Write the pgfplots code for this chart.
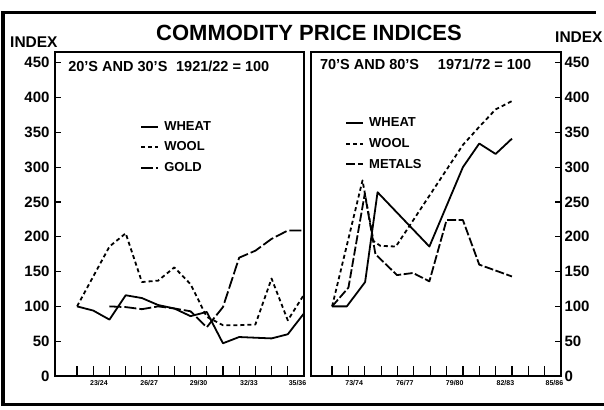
\documentclass[border=0pt]{standalone}
\usepackage{fontspec}
\setmainfont{Liberation Sans}
\usepackage{pgfplots}
\pgfplotsset{compat=1.18}

\pgfplotsset{
  panel/.style={
    scale only axis, height=324pt, ymin=0, ymax=465.5,
    axis line style={line width=2pt, line cap=rect},
    tick align=inside,
    ytick={0,50,...,450},
    xtick={0,...,13},
    xticklabels={},
    tick style={line width=1.2pt, black},
    major tick length=6pt,
    xtick style={/pgfplots/major tick length=10pt},
    xtick pos=left,
    extra x ticks={1.35,4.45,7.5,10.6,13.6},
    extra x tick style={tick style={draw=none}},
    extra x tick style={xticklabel style={font=\bfseries\fontsize{7}{7}\selectfont, yshift=-1pt}},
    yticklabel style={font=\bfseries\fontsize{15}{15}\selectfont},
    /pgf/number format/assume math mode=true,
    legend cell align=left,
    legend image code/.code={\draw[#1] (0pt,0pt) -- (17pt,0pt);},
    legend style={draw=none, fill=none, inner sep=0pt, row sep=10pt,
      font=\bfseries\fontsize{13}{13}\selectfont,
      nodes={inner xsep=5pt, inner ysep=0pt}},
    clip=false,
  },
  wheat/.style={black, line width=1.8pt, line join=round, solid},
  wool/.style={black, line width=1.8pt, line join=round, dash pattern=on 4pt off 3pt},
  gold/.style={black, line width=1.8pt, line join=round, dash pattern=on 12pt off 3pt},
  metals/.style={black, line width=1.8pt, line join=round, dash pattern=on 9pt off 2.5pt},
}

\begin{document}
\begin{tikzpicture}[x=1pt,y=1pt]
\path[use as bounding box] (0,0) rectangle (604,409);
% outer frame
\draw[line width=4pt] (3,5) -- (3,397);
\draw[line width=3pt] (1,396) -- (596,396);
\draw[line width=3pt] (1,5) -- (604,5);
% titles
\node[font=\bfseries\fontsize{22}{22}\selectfont] at (309,376) {COMMODITY PRICE INDICES};
\node[font=\bfseries\fontsize{15.5}{15.5}\selectfont, anchor=west, inner sep=0pt] at (10,367) {INDEX};
\node[font=\bfseries\fontsize{15.5}{15.5}\selectfont, anchor=west, inner sep=0pt] at (555,372) {INDEX};

% left panel
\begin{axis}[panel, at={(55pt,33pt)}, anchor=south west, width=249pt,
  xmin=-1.36, xmax=14,
  ytick pos=left,
  yticklabel style={xshift=-2pt},
  extra x tick labels={23/24,26/27,29/30,32/33,35/36},
  legend style={at={(axis cs:3.9,366)}, anchor=north west},
]
\addplot[wheat] coordinates {(0,100) (1,94) (2,81) (3,116) (4,112) (5,102) (6,97) (7,86) (8,92) (9,47) (10,56) (11,55) (12,54) (13,60) (14,90)};
\addplot[wool] coordinates {(0,100) (1,143) (2,186) (3,205) (4,135) (5,137) (6,156) (7,132) (8,85) (9,73) (10,73) (11,74) (12,140) (13,80) (14,117)};
\addplot[gold] coordinates {(2,100) (3,99) (4,96) (5,100) (6,97) (7,93) (8,70) (9,99) (10,170) (11,180) (12,197) (13,209) (14,209)};
\legend{WHEAT,WOOL,GOLD}
\node[anchor=west, inner sep=0pt, font=\bfseries\fontsize{14.5}{14.5}\selectfont] at (axis cs:-0.55,445) {20'S AND 30'S\hspace{0.6em}1921/22 = 100};
\end{axis}

% right panel
\begin{axis}[panel, at={(311pt,33pt)}, anchor=south west, width=250pt,
  xmin=-1.29, xmax=14,
  ytick pos=right, yticklabel pos=right,
  yticklabel style={xshift=0pt},
  extra x tick labels={73/74,76/77,79/80,82/83,85/86},
  legend style={at={(axis cs:0.8,371)}, anchor=north west},
]
\addplot[wheat] coordinates {(0,100) (0.9,100) (2.02,135) (2.78,264) (5.95,186) (8,300) (9,334) (10,319) (11,341)};
\addplot[wool] coordinates {(0,100) (1.86,281) (2.53,194) (2.95,187) (3.9,186) (8,332) (9,358) (10,383) (11,395)};
\addplot[metals] coordinates {(0,100) (1,127) (2,262) (2.65,175) (3.97,145) (4.95,148) (5.95,136) (7,224) (8,224) (9,160) (11,143)};
\legend{WHEAT,WOOL,METALS}
\node[anchor=west, inner sep=0pt, font=\bfseries\fontsize{14.5}{14.5}\selectfont] at (axis cs:-0.75,448) {70'S AND 80'S\hspace{1.3em}1971/72 = 100};
\end{axis}
\end{tikzpicture}
\end{document}
